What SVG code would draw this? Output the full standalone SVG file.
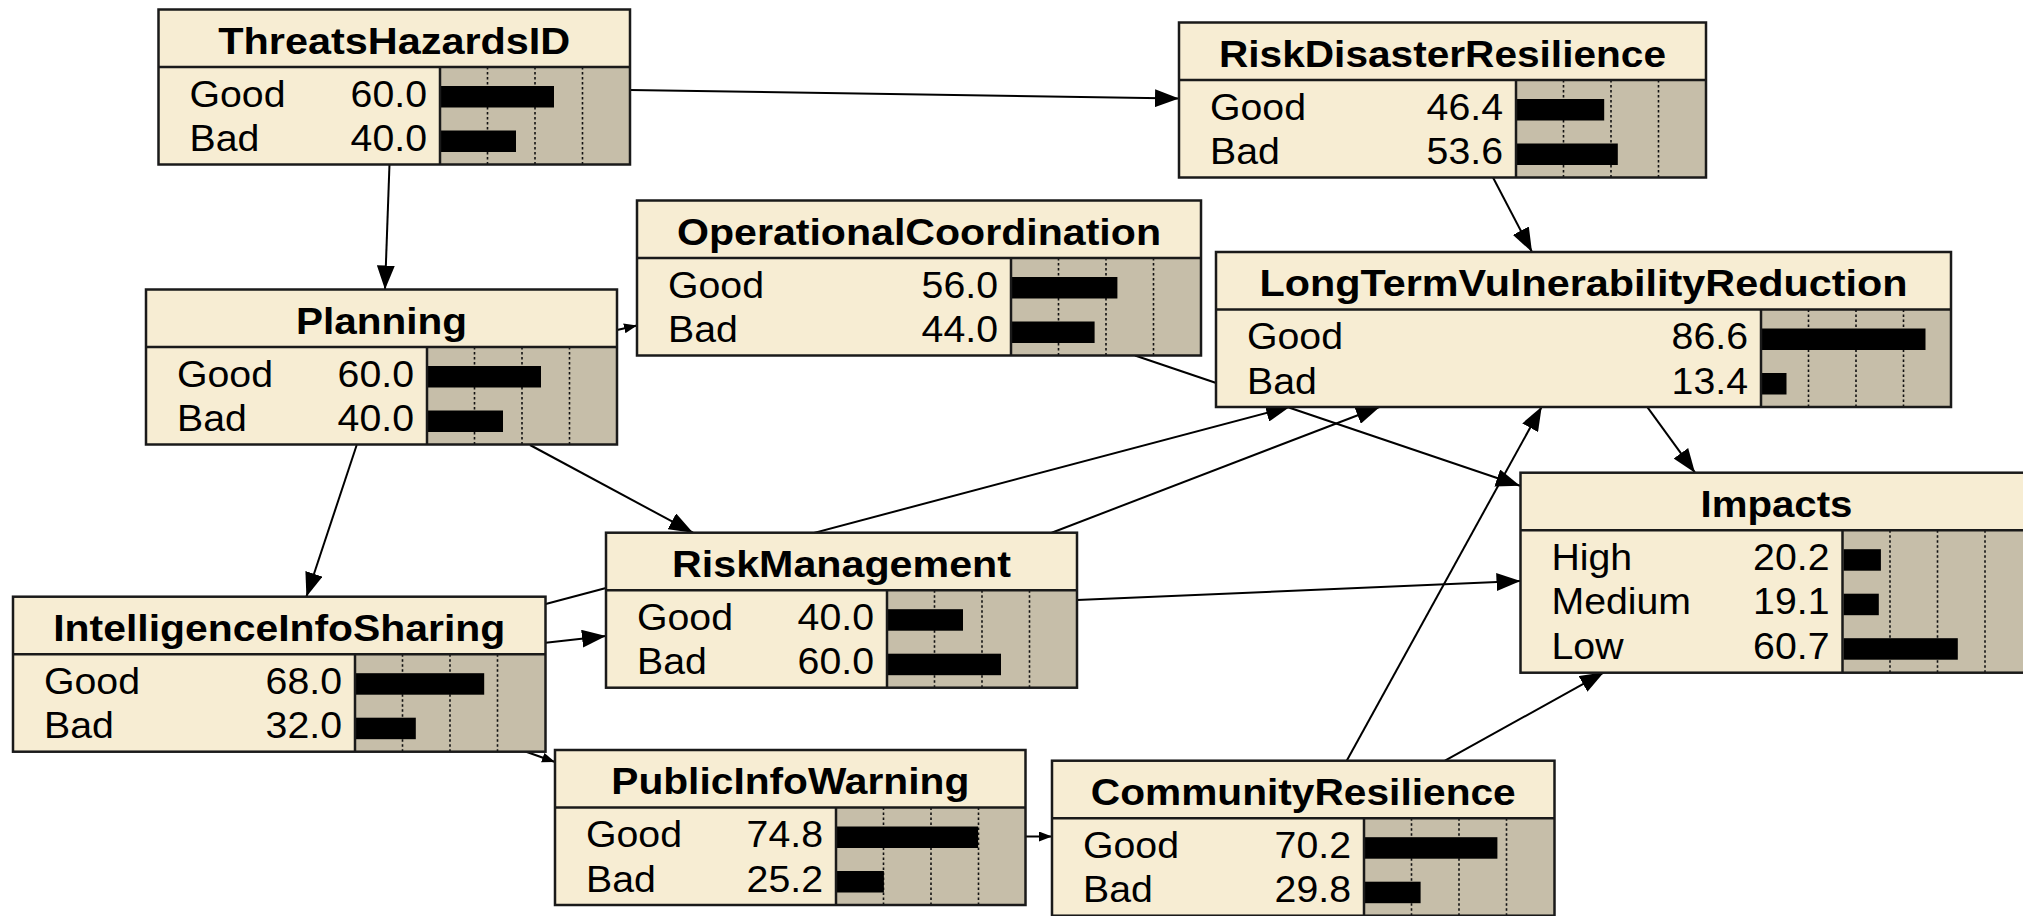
<svg xmlns="http://www.w3.org/2000/svg" width="2023" height="916" viewBox="0 0 2023 916">
<defs>
<style>
.bg{fill:#F7EDD3;stroke:none}
.ba{fill:#C6BEA9;stroke:none}
.dt{stroke:#111;stroke-width:1.6;stroke-dasharray:2.5 2.5}
.br{fill:#000}
.sp{stroke:#1a1a1a;stroke-width:2.5}
.fr{fill:none;stroke:#1a1a1a;stroke-width:2.5}
.tt{font-family:"Liberation Sans",Arial,sans-serif;font-weight:bold;font-size:36px;fill:#000;text-anchor:middle}
.lb{font-family:"Liberation Sans",Arial,sans-serif;font-size:36px;fill:#000}
.vl{font-family:"Liberation Sans",Arial,sans-serif;font-size:36px;fill:#000;text-anchor:end}
.e{stroke:#000;stroke-width:2;fill:none}
.big{marker-end:url(#ab)}
.sm{marker-end:url(#as)}
</style>
<marker id="ab" viewBox="0 0 24 18" refX="24" refY="9" markerWidth="24" markerHeight="18" markerUnits="userSpaceOnUse" orient="auto"><path d="M0,0 L24,9 L0,18 z" fill="#000"/></marker>
<marker id="as" viewBox="0 0 13 10" refX="13" refY="5" markerWidth="13" markerHeight="10" markerUnits="userSpaceOnUse" orient="auto"><path d="M0,0 L13,5 L0,10 z" fill="#000"/></marker>
</defs>
<rect width="2023" height="916" fill="#fff"/>
<g id="connectors">
<line class="e big" x1="630" y1="90" x2="1179" y2="98.5"/>
<line class="e big" x1="389.5" y1="164" x2="385" y2="289.5"/>
<line class="e big" x1="1493" y1="177.5" x2="1532" y2="252"/>
<line class="e sm" x1="617" y1="330" x2="637" y2="325.5"/>
<line class="e big" x1="356.7" y1="445" x2="306.4" y2="596.7"/>
<line class="e big" x1="530" y1="445" x2="693" y2="532.7"/>
<line class="e big" x1="1135" y1="355.5" x2="1520" y2="485.7"/>
<line class="e big" x1="545.7" y1="604" x2="1290" y2="406.7"/>
<line class="e big" x1="1051.7" y1="532.7" x2="1380" y2="406.7"/>
<line class="e big" x1="545.7" y1="642.7" x2="606" y2="636"/>
<line class="e big" x1="1077" y1="600" x2="1520.5" y2="581"/>
<line class="e sm" x1="524" y1="751" x2="555" y2="762"/>
<line class="e sm" x1="1025.5" y1="836.5" x2="1052" y2="836.5"/>
<line class="e big" x1="1346.7" y1="760.7" x2="1541.7" y2="406.7"/>
<line class="e big" x1="1445" y1="760.7" x2="1604" y2="672.3"/>
<line class="e big" x1="1647" y1="406.7" x2="1695" y2="472.7"/>
</g>

<g id="ThreatsHazardsID" transform="translate(158.5,9.5)">
<rect class="bg" width="471.5" height="155"/>
<rect class="ba" x="281.5" y="57.5" width="190" height="97.5"/>
<line class="dt" x1="329" y1="57.5" x2="329" y2="155"/><line class="dt" x1="376.5" y1="57.5" x2="376.5" y2="155"/><line class="dt" x1="424" y1="57.5" x2="424" y2="155"/>
<rect class="br" x="282.5" y="76.5" width="113" height="21.5"/><rect class="br" x="282.5" y="121" width="75" height="21.5"/>
<line class="sp" x1="0" y1="57.5" x2="471.5" y2="57.5"/><line class="sp" x1="281.5" y1="57.5" x2="281.5" y2="155"/>
<rect class="fr" width="471.5" height="155"/>
<text class="tt" x="235.75" y="44" textLength="352" lengthAdjust="spacingAndGlyphs">ThreatsHazardsID</text>
<text class="lb" x="31" y="97" textLength="96" lengthAdjust="spacingAndGlyphs">Good</text><text class="vl" x="268.5" y="97" textLength="76.4" lengthAdjust="spacingAndGlyphs">60.0</text>
<text class="lb" x="31" y="141.5" textLength="69.8" lengthAdjust="spacingAndGlyphs">Bad</text><text class="vl" x="268.5" y="141.5" textLength="76.4" lengthAdjust="spacingAndGlyphs">40.0</text>
</g>

<g id="RiskDisasterResilience" transform="translate(1179,22.5)">
<rect class="bg" width="527" height="155"/>
<rect class="ba" x="337" y="57.5" width="190" height="97.5"/>
<line class="dt" x1="384.5" y1="57.5" x2="384.5" y2="155"/><line class="dt" x1="432" y1="57.5" x2="432" y2="155"/><line class="dt" x1="479.5" y1="57.5" x2="479.5" y2="155"/>
<rect class="br" x="338" y="76.5" width="87.2" height="21.5"/><rect class="br" x="338" y="121" width="100.8" height="21.5"/>
<line class="sp" x1="0" y1="57.5" x2="527" y2="57.5"/><line class="sp" x1="337" y1="57.5" x2="337" y2="155"/>
<rect class="fr" width="527" height="155"/>
<text class="tt" x="263.5" y="44" textLength="447" lengthAdjust="spacingAndGlyphs">RiskDisasterResilience</text>
<text class="lb" x="31" y="97" textLength="96" lengthAdjust="spacingAndGlyphs">Good</text><text class="vl" x="324" y="97" textLength="76.4" lengthAdjust="spacingAndGlyphs">46.4</text>
<text class="lb" x="31" y="141.5" textLength="69.8" lengthAdjust="spacingAndGlyphs">Bad</text><text class="vl" x="324" y="141.5" textLength="76.4" lengthAdjust="spacingAndGlyphs">53.6</text>
</g>

<g id="OperationalCoordination" transform="translate(637,200.5)">
<rect class="bg" width="564" height="155"/>
<rect class="ba" x="374" y="57.5" width="190" height="97.5"/>
<line class="dt" x1="421.5" y1="57.5" x2="421.5" y2="155"/><line class="dt" x1="469" y1="57.5" x2="469" y2="155"/><line class="dt" x1="516.5" y1="57.5" x2="516.5" y2="155"/>
<rect class="br" x="375" y="76.5" width="105.4" height="21.5"/><rect class="br" x="375" y="121" width="82.6" height="21.5"/>
<line class="sp" x1="0" y1="57.5" x2="564" y2="57.5"/><line class="sp" x1="374" y1="57.5" x2="374" y2="155"/>
<rect class="fr" width="564" height="155"/>
<text class="tt" x="282" y="44" textLength="484" lengthAdjust="spacingAndGlyphs">OperationalCoordination</text>
<text class="lb" x="31" y="97" textLength="96" lengthAdjust="spacingAndGlyphs">Good</text><text class="vl" x="361" y="97" textLength="76.4" lengthAdjust="spacingAndGlyphs">56.0</text>
<text class="lb" x="31" y="141.5" textLength="69.8" lengthAdjust="spacingAndGlyphs">Bad</text><text class="vl" x="361" y="141.5" textLength="76.4" lengthAdjust="spacingAndGlyphs">44.0</text>
</g>

<g id="Planning" transform="translate(146,289.5)">
<rect class="bg" width="471" height="155"/>
<rect class="ba" x="281" y="57.5" width="190" height="97.5"/>
<line class="dt" x1="328.5" y1="57.5" x2="328.5" y2="155"/><line class="dt" x1="376" y1="57.5" x2="376" y2="155"/><line class="dt" x1="423.5" y1="57.5" x2="423.5" y2="155"/>
<rect class="br" x="282" y="76.5" width="113" height="21.5"/><rect class="br" x="282" y="121" width="75" height="21.5"/>
<line class="sp" x1="0" y1="57.5" x2="471" y2="57.5"/><line class="sp" x1="281" y1="57.5" x2="281" y2="155"/>
<rect class="fr" width="471" height="155"/>
<text class="tt" x="235.5" y="44" textLength="171" lengthAdjust="spacingAndGlyphs">Planning</text>
<text class="lb" x="31" y="97" textLength="96" lengthAdjust="spacingAndGlyphs">Good</text><text class="vl" x="268" y="97" textLength="76.4" lengthAdjust="spacingAndGlyphs">60.0</text>
<text class="lb" x="31" y="141.5" textLength="69.8" lengthAdjust="spacingAndGlyphs">Bad</text><text class="vl" x="268" y="141.5" textLength="76.4" lengthAdjust="spacingAndGlyphs">40.0</text>
</g>

<g id="LongTermVulnerabilityReduction" transform="translate(1216,252)">
<rect class="bg" width="735" height="155"/>
<rect class="ba" x="545" y="57.5" width="190" height="97.5"/>
<line class="dt" x1="592.5" y1="57.5" x2="592.5" y2="155"/><line class="dt" x1="640" y1="57.5" x2="640" y2="155"/><line class="dt" x1="687.5" y1="57.5" x2="687.5" y2="155"/>
<rect class="br" x="546" y="76.5" width="163.5" height="21.5"/><rect class="br" x="546" y="121" width="24.5" height="21.5"/>
<line class="sp" x1="0" y1="57.5" x2="735" y2="57.5"/><line class="sp" x1="545" y1="57.5" x2="545" y2="155"/>
<rect class="fr" width="735" height="155"/>
<text class="tt" x="367.5" y="44" textLength="648" lengthAdjust="spacingAndGlyphs">LongTermVulnerabilityReduction</text>
<text class="lb" x="31" y="97" textLength="96" lengthAdjust="spacingAndGlyphs">Good</text><text class="vl" x="532" y="97" textLength="76.4" lengthAdjust="spacingAndGlyphs">86.6</text>
<text class="lb" x="31" y="141.5" textLength="69.8" lengthAdjust="spacingAndGlyphs">Bad</text><text class="vl" x="532" y="141.5" textLength="76.4" lengthAdjust="spacingAndGlyphs">13.4</text>
</g>

<g id="Impacts" transform="translate(1520.5,472.7)">
<rect class="bg" width="512" height="200"/>
<rect class="ba" x="322" y="57.5" width="190" height="142.5"/>
<line class="dt" x1="369.5" y1="57.5" x2="369.5" y2="200"/><line class="dt" x1="417" y1="57.5" x2="417" y2="200"/><line class="dt" x1="464.5" y1="57.5" x2="464.5" y2="200"/>
<rect class="br" x="323" y="76.5" width="37.4" height="21.5"/><rect class="br" x="323" y="121" width="35.3" height="21.5"/><rect class="br" x="323" y="165.5" width="114.3" height="21.5"/>
<line class="sp" x1="0" y1="57.5" x2="512" y2="57.5"/><line class="sp" x1="322" y1="57.5" x2="322" y2="200"/>
<rect class="fr" width="512" height="200"/>
<text class="tt" x="256" y="44" textLength="152" lengthAdjust="spacingAndGlyphs">Impacts</text>
<text class="lb" x="31" y="97" textLength="80.7" lengthAdjust="spacingAndGlyphs">High</text><text class="vl" x="309" y="97" textLength="76.4" lengthAdjust="spacingAndGlyphs">20.2</text>
<text class="lb" x="31" y="141.5" textLength="139.5" lengthAdjust="spacingAndGlyphs">Medium</text><text class="vl" x="309" y="141.5" textLength="76.4" lengthAdjust="spacingAndGlyphs">19.1</text>
<text class="lb" x="31" y="186" textLength="72" lengthAdjust="spacingAndGlyphs">Low</text><text class="vl" x="309" y="186" textLength="76.4" lengthAdjust="spacingAndGlyphs">60.7</text>
</g>

<g id="IntelligenceInfoSharing" transform="translate(13,596.7)">
<rect class="bg" width="532.5" height="155"/>
<rect class="ba" x="342" y="57.5" width="190.5" height="97.5"/>
<line class="dt" x1="389.5" y1="57.5" x2="389.5" y2="155"/><line class="dt" x1="437" y1="57.5" x2="437" y2="155"/><line class="dt" x1="484.5" y1="57.5" x2="484.5" y2="155"/>
<rect class="br" x="343" y="76.5" width="128.2" height="21.5"/><rect class="br" x="343" y="121" width="59.8" height="21.5"/>
<line class="sp" x1="0" y1="57.5" x2="532.5" y2="57.5"/><line class="sp" x1="342" y1="57.5" x2="342" y2="155"/>
<rect class="fr" width="532.5" height="155"/>
<text class="tt" x="266.25" y="44" textLength="452" lengthAdjust="spacingAndGlyphs">IntelligenceInfoSharing</text>
<text class="lb" x="31" y="97" textLength="96" lengthAdjust="spacingAndGlyphs">Good</text><text class="vl" x="329" y="97" textLength="76.4" lengthAdjust="spacingAndGlyphs">68.0</text>
<text class="lb" x="31" y="141.5" textLength="69.8" lengthAdjust="spacingAndGlyphs">Bad</text><text class="vl" x="329" y="141.5" textLength="76.4" lengthAdjust="spacingAndGlyphs">32.0</text>
</g>

<g id="RiskManagement" transform="translate(606,532.7)">
<rect class="bg" width="471" height="155"/>
<rect class="ba" x="281" y="57.5" width="190" height="97.5"/>
<line class="dt" x1="328.5" y1="57.5" x2="328.5" y2="155"/><line class="dt" x1="376" y1="57.5" x2="376" y2="155"/><line class="dt" x1="423.5" y1="57.5" x2="423.5" y2="155"/>
<rect class="br" x="282" y="76.5" width="75" height="21.5"/><rect class="br" x="282" y="121" width="113" height="21.5"/>
<line class="sp" x1="0" y1="57.5" x2="471" y2="57.5"/><line class="sp" x1="281" y1="57.5" x2="281" y2="155"/>
<rect class="fr" width="471" height="155"/>
<text class="tt" x="235.5" y="44" textLength="339" lengthAdjust="spacingAndGlyphs">RiskManagement</text>
<text class="lb" x="31" y="97" textLength="96" lengthAdjust="spacingAndGlyphs">Good</text><text class="vl" x="268" y="97" textLength="76.4" lengthAdjust="spacingAndGlyphs">40.0</text>
<text class="lb" x="31" y="141.5" textLength="69.8" lengthAdjust="spacingAndGlyphs">Bad</text><text class="vl" x="268" y="141.5" textLength="76.4" lengthAdjust="spacingAndGlyphs">60.0</text>
</g>

<g id="PublicInfoWarning" transform="translate(555,750)">
<rect class="bg" width="470.5" height="155"/>
<rect class="ba" x="281" y="57.5" width="189.5" height="97.5"/>
<line class="dt" x1="328.5" y1="57.5" x2="328.5" y2="155"/><line class="dt" x1="376" y1="57.5" x2="376" y2="155"/><line class="dt" x1="423.5" y1="57.5" x2="423.5" y2="155"/>
<rect class="br" x="282" y="76.5" width="141.1" height="21.5"/><rect class="br" x="282" y="121" width="46.9" height="21.5"/>
<line class="sp" x1="0" y1="57.5" x2="470.5" y2="57.5"/><line class="sp" x1="281" y1="57.5" x2="281" y2="155"/>
<rect class="fr" width="470.5" height="155"/>
<text class="tt" x="235.25" y="44" textLength="358" lengthAdjust="spacingAndGlyphs">PublicInfoWarning</text>
<text class="lb" x="31" y="97" textLength="96" lengthAdjust="spacingAndGlyphs">Good</text><text class="vl" x="268" y="97" textLength="76.4" lengthAdjust="spacingAndGlyphs">74.8</text>
<text class="lb" x="31" y="141.5" textLength="69.8" lengthAdjust="spacingAndGlyphs">Bad</text><text class="vl" x="268" y="141.5" textLength="76.4" lengthAdjust="spacingAndGlyphs">25.2</text>
</g>

<g id="CommunityResilience" transform="translate(1052,760.7)">
<rect class="bg" width="502.5" height="155"/>
<rect class="ba" x="312" y="57.5" width="190.5" height="97.5"/>
<line class="dt" x1="359.5" y1="57.5" x2="359.5" y2="155"/><line class="dt" x1="407" y1="57.5" x2="407" y2="155"/><line class="dt" x1="454.5" y1="57.5" x2="454.5" y2="155"/>
<rect class="br" x="313" y="76.5" width="132.4" height="21.5"/><rect class="br" x="313" y="121" width="55.6" height="21.5"/>
<line class="sp" x1="0" y1="57.5" x2="502.5" y2="57.5"/><line class="sp" x1="312" y1="57.5" x2="312" y2="155"/>
<rect class="fr" width="502.5" height="155"/>
<text class="tt" x="251.25" y="44" textLength="425" lengthAdjust="spacingAndGlyphs">CommunityResilience</text>
<text class="lb" x="31" y="97" textLength="96" lengthAdjust="spacingAndGlyphs">Good</text><text class="vl" x="299" y="97" textLength="76.4" lengthAdjust="spacingAndGlyphs">70.2</text>
<text class="lb" x="31" y="141.5" textLength="69.8" lengthAdjust="spacingAndGlyphs">Bad</text><text class="vl" x="299" y="141.5" textLength="76.4" lengthAdjust="spacingAndGlyphs">29.8</text>
</g>
</svg>
